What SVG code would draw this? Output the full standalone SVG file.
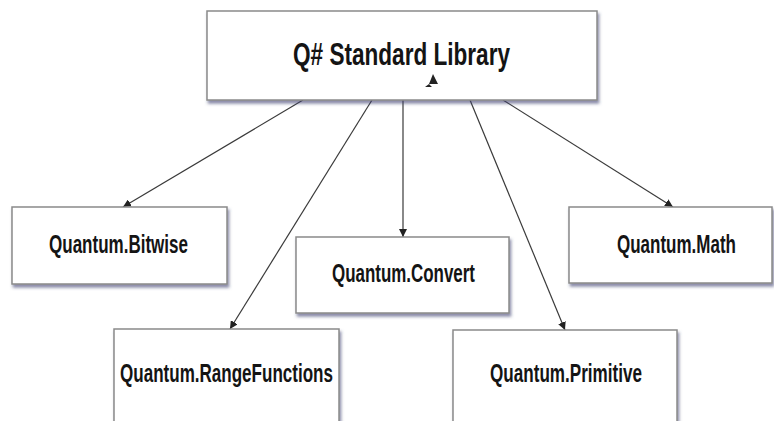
<svg xmlns="http://www.w3.org/2000/svg" width="774" height="421" viewBox="0 0 774 421">
  <defs>
    <filter id="shadow" x="-5%" y="-10%" width="115%" height="130%">
      <feDropShadow dx="1.5" dy="3" stdDeviation="1.5" flood-color="#3c3f70" flood-opacity="0.6"/>
    </filter>
    <marker id="arrow" viewBox="0 0 10 10" refX="10" refY="5" markerWidth="8" markerHeight="8" markerUnits="userSpaceOnUse" orient="auto">
      <path d="M0,0 L10,5 L0,10 Z" fill="#222"/>
    </marker>
  </defs>
  <style>
    .box { fill: #ffffff; stroke: #8a8a8a; stroke-width: 1.5; filter: url(#shadow); }
    .label { font-family: "Liberation Sans", Arial, sans-serif; font-weight: bold; fill: #141414; text-anchor: start; }
    .edge { fill: none; stroke: #3a3a3a; stroke-width: 1.2; marker-end: url(#arrow); }
  </style>
  <rect width="774" height="421" fill="#ffffff"/>

  <!-- connectors from the library root to each namespace -->
  <g id="connectors">
    <line class="edge" x1="303" y1="100" x2="123" y2="207"/>
    <line class="edge" x1="372" y1="100" x2="230" y2="329"/>
    <line class="edge" x1="403" y1="100" x2="403" y2="237"/>
    <line class="edge" x1="470" y1="100" x2="565" y2="330"/>
    <line class="edge" x1="503" y1="100" x2="673" y2="207"/>
  </g>

  <g id="root">
    <rect class="box" x="207" y="11" width="390" height="89"/>
    <text class="label" x="293" y="65" font-size="31" textLength="217" lengthAdjust="spacingAndGlyphs">Q# Standard Library</text>
    <path d="M433,74 L438,84 L429,84 Z M429,84 L425,87 L432,87 Z" fill="#222"/>
  </g>

  <g id="bitwise">
    <rect class="box" x="12" y="207" width="215" height="77"/>
    <text class="label" x="49" y="253" font-size="25" textLength="139" lengthAdjust="spacingAndGlyphs">Quantum.Bitwise</text>
  </g>

  <g id="convert">
    <rect class="box" x="296" y="237" width="213" height="76"/>
    <text class="label" x="332" y="282" font-size="25" textLength="143" lengthAdjust="spacingAndGlyphs">Quantum.Convert</text>
  </g>

  <g id="math">
    <rect class="box" x="569" y="207" width="203" height="76"/>
    <text class="label" x="617" y="253" font-size="25" textLength="119" lengthAdjust="spacingAndGlyphs">Quantum.Math</text>
  </g>

  <g id="rangefunctions">
    <rect class="box" x="114" y="329" width="225" height="100"/>
    <text class="label" x="120" y="382" font-size="25" textLength="213" lengthAdjust="spacingAndGlyphs">Quantum.RangeFunctions</text>
  </g>

  <g id="primitive">
    <rect class="box" x="453" y="330" width="224" height="100"/>
    <text class="label" x="490" y="382" font-size="25" textLength="152" lengthAdjust="spacingAndGlyphs">Quantum.Primitive</text>
  </g>
</svg>
